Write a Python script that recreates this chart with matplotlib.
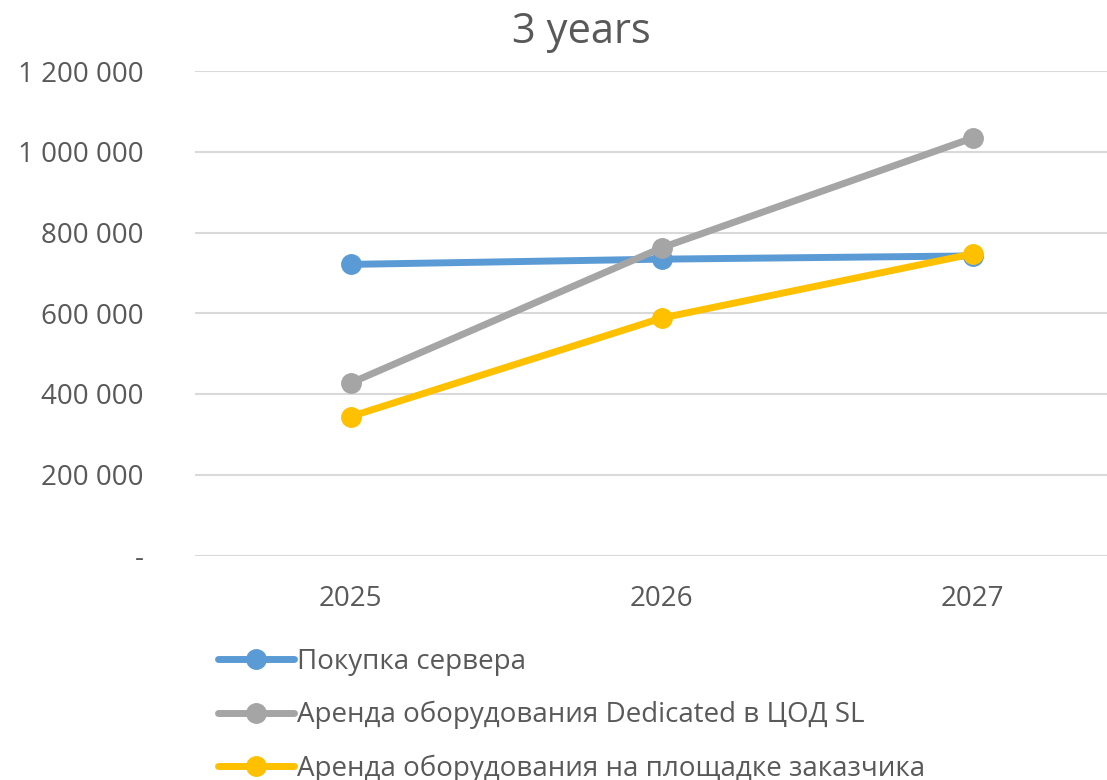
import matplotlib.pyplot as plt
from matplotlib.ticker import FuncFormatter

plt.rcParams['font.family'] = ['Open Sans', 'DejaVu Sans']

years = ['2025', '2026', '2027']
buy_server = [721000, 734000, 742000]
rent_dedicated = [427000, 762000, 1034000]
rent_onsite = [344000, 588000, 747000]

series_names = ['Покупка сервера',
                'Аренда оборудования Dedicated в ЦОД SL',
                'Аренда оборудования на площадке заказчика']
colors = ['#5B9BD5', '#A5A5A5', '#FFC000']
text_col = '#595959'

fig = plt.figure(figsize=(11.07, 7.8), dpi=100)
# plot area runs past the right edge, like the cropped original
ax = fig.add_axes([195/1107, 1 - 555.5/780, 933/1107, 484.5/780])

x = range(len(years))
for vals, name, c in zip([buy_server, rent_dedicated, rent_onsite], series_names, colors):
    ax.plot(x, vals, color=c, lw=5, marker='o', ms=14, label=name,
            solid_capstyle='round', clip_on=False)

ax.set_xlim(-0.5, 2.5)
ax.set_ylim(0, 1200000)
ax.set_yticks(range(0, 1200001, 200000))


def fmt(v, pos):
    if v == 0:
        return '-'
    return f'{int(v):,}'.replace(',', ' ')


ax.yaxis.set_major_formatter(FuncFormatter(fmt))
ax.set_xticks(list(x))
ax.set_xticklabels(years)
ax.tick_params(axis='both', length=0, labelsize=20, colors=text_col)
ax.tick_params(axis='y', pad=37)
ax.tick_params(axis='x', pad=21)
ax.grid(axis='y', color='#D9D9D9', lw=1.5)
ax.set_axisbelow(True)
for s in ax.spines.values():
    s.set_visible(False)

fig.text(581/1107, 1 - 32/780, '3 years', ha='center', va='center',
         fontsize=30, color=text_col)

fig.legend(loc='upper left', bbox_to_anchor=(218/1107, 1 - 648/780),
           frameon=False, fontsize=20, labelcolor=text_col,
           handlelength=2.75, handletextpad=0.1, labelspacing=0.9,
           borderpad=0, borderaxespad=0)

fig.savefig('out.png', dpi=100)
